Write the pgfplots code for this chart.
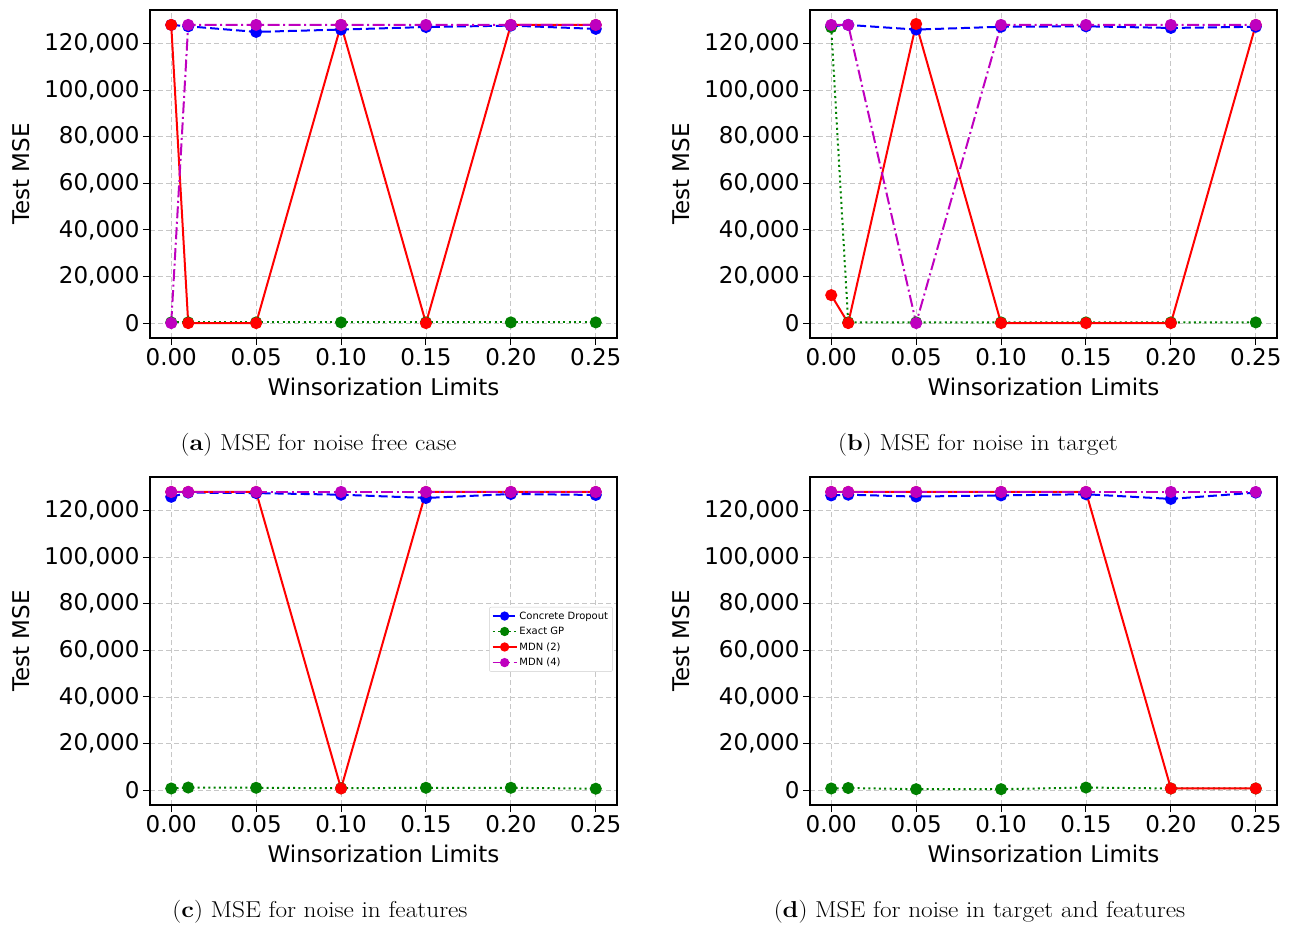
\documentclass[border=0pt]{standalone}
\usepackage{fontspec}
\usepackage{pgfplots}
\pgfplotsset{compat=1.18}
\newfontfamily\dejavu{DejaVu Sans}
\newfontfamily\capfont{Latin Modern Roman}[FakeStretch=1.1]
\definecolor{mplgreen}{RGB}{0,128,0}
\definecolor{mplmag}{RGB}{191,0,191}
\pgfplotsset{
  mse/.style={
    width=467pt, height=328pt, scale only axis,
    xmin=-0.0125, xmax=0.2625, ymin=-6400, ymax=134400,
    xtick={0,0.05,0.1,0.15,0.2,0.25},
    xticklabels={0.00,0.05,0.10,0.15,0.20,0.25},
    ytick={0,20000,40000,60000,80000,100000,120000},
    yticklabels={0,{20,000},{40,000},{60,000},{80,000},{100,000},{120,000}},
    grid=major,
    grid style={dash pattern=on 5pt off 3pt, color=black!22, line width=0.8pt},
    axis line style={line width=1.2pt},
    tick align=outside, xtick pos=bottom, ytick pos=left,
    major tick length=7pt,
    tick style={black, line width=1pt},
    scaled y ticks=false,
    tick label style={font=\dejavu\fontsize{23}{27}\selectfont},
    label style={font=\dejavu\fontsize{23}{27}\selectfont},
    xlabel={Winsorization Limits}, ylabel={Test MSE},
    xlabel style={yshift=-5pt},
    ylabel style={yshift=8pt},
    every axis plot/.append style={line width=2pt, mark=*, mark size=5pt},
    legend image code/.code={\draw[mark repeat=2,mark phase=2,#1, mark size=3.8pt, line width=1.6pt] plot coordinates {(0pt,0pt) (12pt,0pt) (24pt,0pt)};},
  },
  cd/.style={color=blue, dash pattern=on 9pt off 4pt, mark options={solid, fill=blue, draw=blue}},
  gp/.style={color=mplgreen, dash pattern=on 2pt off 3.3pt, mark options={solid, fill=mplgreen, draw=mplgreen}},
  m2/.style={color=red, solid, mark options={solid, fill=red, draw=red}},
  m4/.style={color=mplmag, dash pattern=on 12pt off 3.5pt on 2pt off 3.5pt, mark options={solid, fill=mplmag, draw=mplmag}},
}
\begin{document}
\begin{tikzpicture}[x=1pt,y=1pt]
\useasboundingbox (0,0) rectangle (1292,-927);
% (a)
\begin{axis}[mse, anchor=north west, at={(150pt,-10pt)}]
\addplot[cd] coordinates {(0,128000)(0.01,127400)(0.05,125000)(0.10,126000)(0.15,127100)(0.20,127700)(0.25,126300)};
\addplot[gp] coordinates {(0,300)(0.01,300)(0.05,300)(0.10,300)(0.15,300)(0.20,300)(0.25,300)};
\addplot[m2] coordinates {(0,128000)(0.01,0)(0.05,0)(0.10,128000)(0.15,0)(0.20,128000)(0.25,128000)};
\addplot[m4] coordinates {(0,0)(0.01,128000)(0.05,128000)(0.10,128000)(0.15,128000)(0.20,128000)(0.25,128000)};
\end{axis}
% (b)
\begin{axis}[mse, anchor=north west, at={(810pt,-10pt)}]
\addplot[cd] coordinates {(0,127400)(0.01,128000)(0.05,126000)(0.10,127200)(0.15,127400)(0.20,126700)(0.25,127200)};
\addplot[gp] coordinates {(0,127000)(0.01,300)(0.05,300)(0.10,300)(0.15,300)(0.20,300)(0.25,300)};
\addplot[m2] coordinates {(0,12000)(0.01,0)(0.05,128400)(0.10,0)(0.15,0)(0.20,0)(0.25,128000)};
\addplot[m4] coordinates {(0,128000)(0.01,128000)(0.05,0)(0.10,128000)(0.15,128000)(0.20,128000)(0.25,128000)};
\end{axis}
% (c)
\begin{axis}[mse, anchor=north west, at={(150pt,-477pt)},
  legend style={at={(rel axis cs:0.991,0.604)}, anchor=north east, font=\dejavu\fontsize{10}{12}\selectfont, draw=black!20, rounded corners=2pt, row sep=2.5pt, inner sep=2.5pt},
  legend cell align=left]
\addplot[cd] coordinates {(0,125900)(0.01,127700)(0.05,127500)(0.10,126800)(0.15,125400)(0.20,127100)(0.25,126700)};
\addplot[gp] coordinates {(0,700)(0.01,1100)(0.05,1000)(0.10,800)(0.15,1000)(0.20,1000)(0.25,600)};
\addplot[m2] coordinates {(0,128000)(0.01,128000)(0.05,128000)(0.10,700)(0.15,128000)(0.20,128000)(0.25,128000)};
\addplot[m4] coordinates {(0,128000)(0.01,128000)(0.05,128000)(0.10,128000)(0.15,128000)(0.20,128000)(0.25,128000)};
\legend{Concrete Dropout, Exact GP, MDN (2), MDN (4)}
\end{axis}
% (d)
\begin{axis}[mse, anchor=north west, at={(810pt,-477pt)}]
\addplot[cd] coordinates {(0,126500)(0.01,126800)(0.05,126000)(0.10,126500)(0.15,127000)(0.20,125000)(0.25,127700)};
\addplot[gp] coordinates {(0,700)(0.01,900)(0.05,400)(0.10,400)(0.15,1100)(0.20,700)(0.25,700)};
\addplot[m2] coordinates {(0,128000)(0.01,128000)(0.05,128000)(0.10,128000)(0.15,128000)(0.20,700)(0.25,700)};
\addplot[m4] coordinates {(0,128000)(0.01,128000)(0.05,128000)(0.10,128000)(0.15,128000)(0.20,128000)(0.25,128000)};
\end{axis}
\node[font=\capfont\fontsize{23}{27}\selectfont] at (318.5,-445) {(\textbf{a}) MSE for noise free case};
\node[font=\capfont\fontsize{23}{27}\selectfont] at (978,-445) {(\textbf{b}) MSE for noise in target};
\node[font=\capfont\fontsize{23}{27}\selectfont] at (320,-912) {(\textbf{c}) MSE for noise in features};
\node[font=\capfont\fontsize{23}{27}\selectfont] at (979.5,-912) {(\textbf{d}) MSE for noise in target and features};
\end{tikzpicture}
\end{document}
